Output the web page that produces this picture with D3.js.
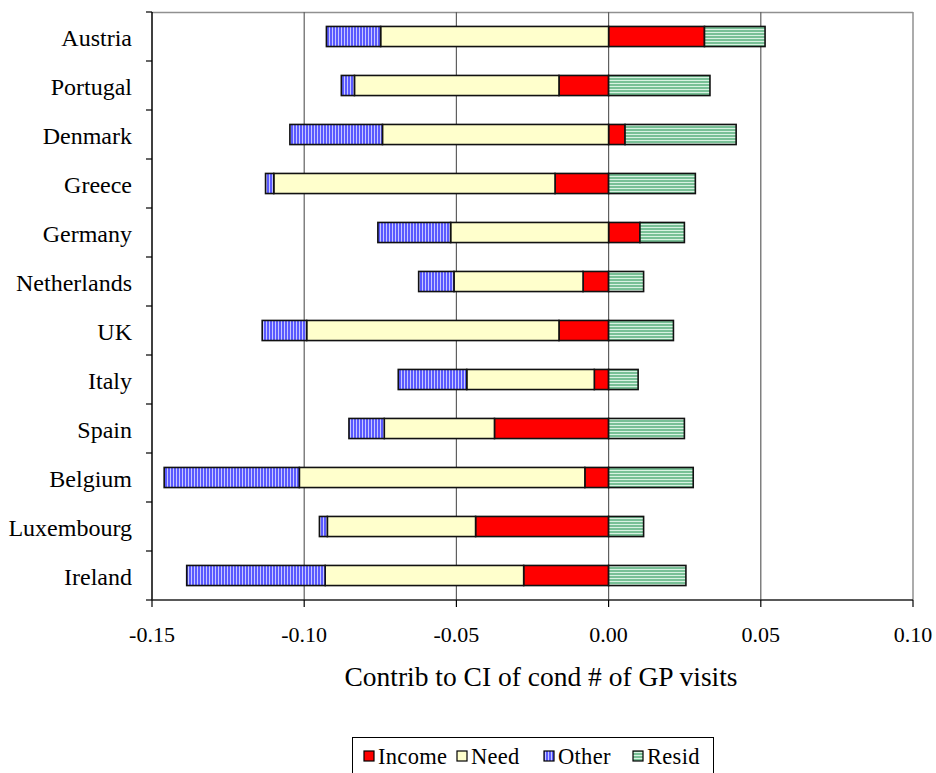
<!DOCTYPE html>
<html>
<head>
<meta charset="utf-8">
<script src="https://cdn.jsdelivr.net/npm/d3@7"></script>
<style>
  html, body { margin: 0; padding: 0; background: #fff; }
  text { font-family: "Liberation Serif", "Times New Roman", serif; fill: #000; }
</style>
</head>
<body>
<script>
// Decomposition of the concentration index of conditional GP visits
const countries = ["Austria", "Portugal", "Denmark", "Greece", "Germany", "Netherlands",
                   "UK", "Italy", "Spain", "Belgium", "Luxembourg", "Ireland"];
const income = [0.0315, -0.0163, 0.0054, -0.0176, 0.0103, -0.0084,
                -0.0163, -0.0047, -0.0375, -0.0078, -0.0437, -0.0279];
const need   = [-0.0749, -0.0672, -0.0743, -0.0924, -0.0519, -0.0424,
                -0.0829, -0.0419, -0.0362, -0.0938, -0.0487, -0.0652];
const other  = [-0.0178, -0.0043, -0.0304, -0.0027, -0.0239, -0.0116,
                -0.0146, -0.0225, -0.0116, -0.0444, -0.0026, -0.0455];
const resid  = [0.0199, 0.0333, 0.0365, 0.0285, 0.0146, 0.0115,
                0.0213, 0.0097, 0.0249, 0.0278, 0.0115, 0.0254];
const seriesNames = ["Income", "Need", "Other", "Resid"];
const xTicks = [-0.15, -0.10, -0.05, 0.00, 0.05, 0.10];
const xTitle = "Contrib to CI of cond # of GP visits";

const W = 936, H = 773;
const plot = { left: 152, right: 913, top: 12, bottom: 600 };

const svg = d3.select("body").append("svg").attr("width", W).attr("height", H);
const defs = svg.append("defs");

// vertical-stripe fill for "Other"
const pOther = defs.append("pattern").attr("id", "pat-other")
  .attr("patternUnits", "userSpaceOnUse").attr("width", 3).attr("height", 3);
pOther.append("rect").attr("width", 3).attr("height", 3).attr("fill", "#5a5aff");
pOther.append("rect").attr("x", 2).attr("width", 1).attr("height", 3).attr("fill", "#c8c8ff");

// horizontal-stripe fill for "Resid"
const pResid = defs.append("pattern").attr("id", "pat-resid")
  .attr("patternUnits", "userSpaceOnUse").attr("width", 3).attr("height", 3);
pResid.append("rect").attr("width", 3).attr("height", 3).attr("fill", "#78c096");
pResid.append("rect").attr("y", 2).attr("width", 3).attr("height", 1).attr("fill", "#d8f2e2");

const fills = { Income: "#ff0000", Need: "#ffffcc", Other: "url(#pat-other)", Resid: "url(#pat-resid)" };

const x = d3.scaleLinear().domain([-0.15, 0.10]).range([plot.left, plot.right]);
const y = d3.scaleBand().domain(countries).range([plot.top, plot.bottom]).paddingInner(0.59).paddingOuter(0.295);
const yb = d3.scaleBand().domain(countries).range([plot.top, plot.bottom]);
const fmt = d => d3.format(".2f")(d).replace("\u2212", "-");

// plot frame (top/right) and gridlines
svg.append("line").attr("x1", plot.left).attr("x2", plot.right).attr("y1", plot.top + 0.5).attr("y2", plot.top + 0.5)
  .attr("stroke", "#909090").attr("stroke-width", 1.5);
svg.append("line").attr("x1", plot.right).attr("x2", plot.right).attr("y1", plot.top).attr("y2", plot.bottom)
  .attr("stroke", "#909090").attr("stroke-width", 1.5);
svg.append("g").selectAll("line").data([-0.10, -0.05, 0.00, 0.05]).join("line")
  .attr("x1", d => x(d)).attr("x2", d => x(d)).attr("y1", plot.top).attr("y2", plot.bottom)
  .attr("stroke", "#606060").attr("stroke-width", 1.2);

// stacked segments: negatives stack leftward from 0, positives rightward
const rows = countries.map((c, i) => ({ c, vals: { Income: income[i], Need: need[i], Other: other[i], Resid: resid[i] } }));
const segs = [];
rows.forEach(r => {
  let pos = 0, neg = 0;
  seriesNames.forEach(s => {
    const v = r.vals[s];
    if (v >= 0) { segs.push({ c: r.c, s, x0: pos, x1: pos + v }); pos += v; }
    else { segs.push({ c: r.c, s, x0: neg + v, x1: neg }); neg += v; }
  });
});
svg.append("g").selectAll("rect").data(segs).join("rect")
  .attr("x", d => x(d.x0)).attr("width", d => x(d.x1) - x(d.x0))
  .attr("y", d => y(d.c)).attr("height", y.bandwidth())
  .attr("fill", d => fills[d.s]).attr("stroke", "#111").attr("stroke-width", 1.6);

// left axis: ticks at category boundaries
const gy = svg.append("g");
gy.append("line").attr("x1", plot.left).attr("x2", plot.left).attr("y1", plot.top).attr("y2", plot.bottom)
  .attr("stroke", "#000").attr("stroke-width", 1.5);
const bounds = countries.map(c => yb(c)).concat([plot.bottom]);
gy.selectAll("line.t").data(bounds).join("line").attr("class", "t")
  .attr("x1", plot.left - 6).attr("x2", plot.left).attr("y1", d => d).attr("y2", d => d)
  .attr("stroke", "#000").attr("stroke-width", 1.2);
gy.selectAll("text").data(countries).join("text")
  .attr("x", 132).attr("y", d => yb(d) + yb.bandwidth() / 2 + 9)
  .attr("text-anchor", "end").attr("font-size", 24)
  .text(d => d);

// bottom axis
const gx = svg.append("g");
gx.append("line").attr("x1", plot.left).attr("x2", plot.right).attr("y1", plot.bottom).attr("y2", plot.bottom)
  .attr("stroke", "#222").attr("stroke-width", 1.5);
gx.selectAll("line.t").data(xTicks).join("line").attr("class", "t")
  .attr("x1", d => x(d)).attr("x2", d => x(d)).attr("y1", plot.bottom).attr("y2", plot.bottom + 7)
  .attr("stroke", "#000").attr("stroke-width", 1.2);
gx.selectAll("text").data(xTicks).join("text")
  .attr("x", d => x(d)).attr("y", 642).attr("text-anchor", "middle").attr("font-size", 22)
  .text(fmt);

svg.append("text").attr("x", 541).attr("y", 686).attr("text-anchor", "middle")
  .attr("font-size", 27.5).text(xTitle);

// legend
const lg = svg.append("g");
lg.append("rect").attr("x", 352.5).attr("y", 737.5).attr("width", 361).attr("height", 38)
  .attr("fill", "#fff").attr("stroke", "#000").attr("stroke-width", 1);
const legendX = [364, 457, 544, 633];
seriesNames.forEach((s, i) => {
  lg.append("rect").attr("x", legendX[i]).attr("y", 751).attr("width", 10).attr("height", 10)
    .attr("fill", fills[s]).attr("stroke", "#000").attr("stroke-width", 1.2);
  lg.append("text").attr("x", legendX[i] + 14).attr("y", 764).attr("font-size", 22.5)
    .attr("letter-spacing", 0.3).text(s);
});
</script>
</body>
</html>
